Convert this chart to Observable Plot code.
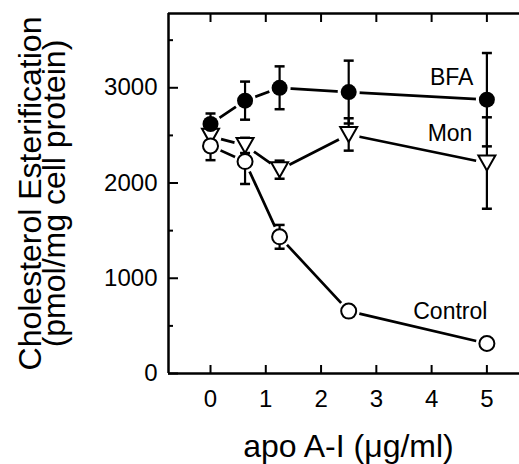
<!DOCTYPE html>
<html><head><meta charset="utf-8">
<script src="https://cdn.jsdelivr.net/npm/d3@7"></script>
<script src="https://cdn.jsdelivr.net/npm/@observablehq/plot@0.6"></script>
<style>html,body{margin:0;padding:0;background:#fff} svg{display:block}</style>
</head><body><div id="chart"></div>
<script>
const doses = [0, 0.625, 1.25, 2.5, 5];
const bfaValues = [2620, 2865, 3000, 2955, 2875];
const bfaErrors = [110, 200, 225, 330, 490];
const monValues = [2490, 2395, 2140, 2510, 2210];
const monErrors = [100, 80, 95, 170, 480];
const controlValues = [2390, 2225, 1435, 655, 315];
const controlErrors = [150, 235, 125, 0, 0];
const seriesNames = ["BFA", "Mon", "Control"];
const xDomain = [-0.76, 5.59];
const yDomain = [0, 3780];
const xTicks = [0, 1, 2, 3, 4, 5];
const xTickLabels = ["0", "1", "2", "3", "4", "5"];
const yTicks = [0, 1000, 2000, 3000];
const yTickLabels = ["0", "1000", "2000", "3000"];
const yMinorTicks = [500, 1500, 2500, 3500];
const xLabel = "apo A-I (μg/ml)";
const yLabel1 = "Cholesterol Esterification";
const yLabel2 = "(pmol/mg cell protein)";

const mk = (name, vals, errs) => doses.map((x, i) => ({series: name, x, y: vals[i], err: errs[i]}));
const bfaRows = mk("BFA", bfaValues, bfaErrors);
const monRows = mk("Mon", monValues, monErrors);
const controlRows = mk("Control", controlValues, controlErrors);
const rows = [...bfaRows, ...monRows, ...controlRows];
const errRows = rows.filter(d => d.err > 0);
const capRows = errRows.flatMap(d => [{x: d.x, y: d.y - d.err}, {x: d.x, y: d.y + d.err}]);

const W = 519, H = 464, mL = 168, mR = 0, mT = 13, mB = 91;
const frameW = W - mL - mR, frameH = H - mT - mB;

const capSymbol = {draw(ctx) { ctx.moveTo(-5, 0); ctx.lineTo(5, 0); }};
const triDown = {draw(ctx) { ctx.moveTo(-8.5, -7.5); ctx.lineTo(8.5, -7.5); ctx.lineTo(0, 7.5); ctx.closePath(); }};
const font = "'Liberation Sans', Arial, Helvetica, sans-serif";
const last = name => rows.filter(d => d.series === name && d.x === doses[doses.length - 1]);

const chart = Plot.plot({
  width: W, height: H,
  marginLeft: mL, marginRight: mR, marginTop: mT, marginBottom: mB,
  style: {fontFamily: font, color: "black", background: "white", overflow: "visible"},
  x: {domain: xDomain},
  y: {domain: yDomain},
  marks: [
    Plot.ruleY([yDomain[0]], {strokeWidth: 2.5}),
    Plot.ruleY([yDomain[1]], {strokeWidth: 2.5}),
    Plot.ruleX([xDomain[0]], {strokeWidth: 2.5}),
    Plot.tickX(xTicks, {x: d => d, insetTop: frameH - 8, strokeWidth: 2}),
    Plot.tickX(xTicks, {x: d => d, insetBottom: frameH - 9, strokeWidth: 2}),
    Plot.tickY(yTicks, {y: d => d, insetRight: frameW - 10, strokeWidth: 2}),
    Plot.tickY(yMinorTicks, {y: d => d, insetRight: frameW - 5, strokeWidth: 2}),
    Plot.axisX(xTicks, {tickSize: 0, tickPadding: 16, fontSize: 24, label: null,
      tickFormat: d => xTickLabels[xTicks.indexOf(d)]}),
    Plot.axisY(yTicks, {tickSize: 0, tickPadding: 11, fontSize: 24, label: null,
      tickFormat: d => yTickLabels[yTicks.indexOf(d)]}),
    Plot.line(rows, {x: "x", y: "y", z: "series", stroke: "black", strokeWidth: 2.7}),
    Plot.dot(rows, {x: "x", y: "y", r: 11, fill: "white"}),
    Plot.ruleX(errRows, {x: "x", y1: d => d.y - d.err, y2: d => d.y + d.err, strokeWidth: 2.2}),
    Plot.dot(capRows, {x: "x", y: "y", r: 5, symbol: capSymbol, stroke: "black", strokeWidth: 2.5}),
    Plot.dot(monRows, {x: "x", y: "y", r: 8, symbol: triDown, fill: "white", stroke: "black", strokeWidth: 2}),
    Plot.dot(controlRows, {x: "x", y: "y", r: 7.5, fill: "white", stroke: "black", strokeWidth: 2}),
    Plot.dot(bfaRows, {x: "x", y: "y", r: 8, fill: "black"}),
    Plot.text(last("BFA"), {x: "x", y: "y", text: "series", textAnchor: "end", lineAnchor: "bottom", dx: -13.5, dy: -14.5, fontSize: 23}),
    Plot.text(last("Mon"), {x: "x", y: "y", text: "series", textAnchor: "end", lineAnchor: "bottom", dx: -14.5, dy: -22.5, fontSize: 23}),
    Plot.text(last("Control"), {x: "x", y: "y", text: "series", textAnchor: "end", lineAnchor: "bottom", dx: 0.5, dy: -25, fontSize: 23}),
    Plot.text([xLabel], {text: d => d, frameAnchor: "bottom", textAnchor: "middle", dy: 83, dx: 4.5, lineAnchor: "bottom", fontSize: 32}),
    Plot.text([yLabel1], {text: d => d, frameAnchor: "left", textAnchor: "middle", rotate: -90, dx: -128, lineAnchor: "bottom", fontSize: 32}),
    Plot.text([yLabel2], {text: d => d, frameAnchor: "left", textAnchor: "middle", rotate: -90, dx: -103.5, lineAnchor: "bottom", fontSize: 32})
  ]
});
document.getElementById("chart").appendChild(chart);
</script>
</body></html>
